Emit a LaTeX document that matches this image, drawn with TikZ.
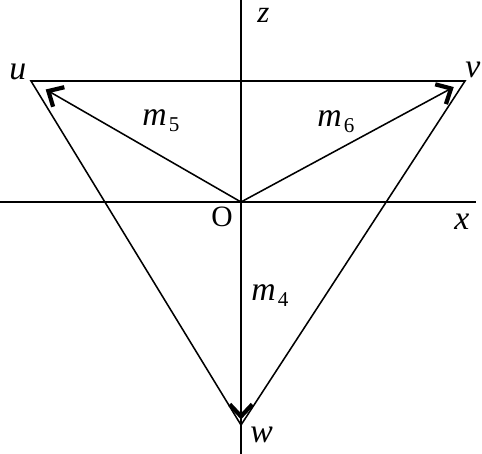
\documentclass[tikz,border=0pt]{standalone}
\usepackage{fontspec}
\setmainfont{Liberation Serif}
\usetikzlibrary{arrows.meta,calc}
\tikzset{
  axis/.style={line width=1.1pt},
  edge/.style={line width=1.1pt},
  vec/.style={line width=1.1pt, -{Straight Barb[length=8.5pt, width=16pt, line width=3pt]}},
  lbl/.style={font=\fontsize{24}{28}\selectfont\itshape, inner sep=0pt, anchor=base west}
}
\newcommand{\msub}[1]{\textit{m}\kern1.5pt\raisebox{-4.5pt}{\fontsize{15}{18}\selectfont\upshape #1}}
\begin{document}
\begin{tikzpicture}[x=0.025cm, y=-0.025cm]
        \useasboundingbox (0,0) rectangle (482,454);
        %%Coordinate
        \coordinate (O) at (241,202);
        \coordinate (u) at (31,81);
        \coordinate (v) at (465,81);
        \coordinate (w) at (241,425);
        \coordinate (ztop) at (241,0);
        \coordinate (zbot) at (241,454);
        \coordinate (xl) at (0,202);
        \coordinate (xr) at (476,202);
        \draw[axis] (ztop) -- (zbot);
        \draw[axis] (xl) -- (xr);
        %%Triangle
        \draw[edge, line join=miter] (u) -- (v) -- (w) -- cycle;
        %%Vectors
        \draw[vec] (O) -- ($(O)!0.93!(u)$);
        \draw[vec] (O) -- ($(O)!0.95!(v)$);
        \draw[vec] (O) -- ($(O)!0.975!(w)$);
        %%Labels
        \node[lbl] (lu) at (9,79) {u};
        \node[lbl] (lv) at (465,77) {v};
        \node[lbl] (lw) at (250,442) {w};
        \node[lbl, text height=1ex, font=\fontsize{22}{26}\selectfont\itshape] (lz) at (257,22) {z};
        \node[lbl] (lx) at (454,229) {x};
        \node[lbl, font=\fontsize{21}{25}\selectfont\upshape] (lO) at (211,226) {O};
        \node[lbl] (m5) at (142,125) {\msub{5}};
        \node[lbl] (m6) at (317,126) {\msub{6}};
        \node[lbl] (m4) at (251,300) {\msub{4}};
    \end{tikzpicture}
\end{document}
